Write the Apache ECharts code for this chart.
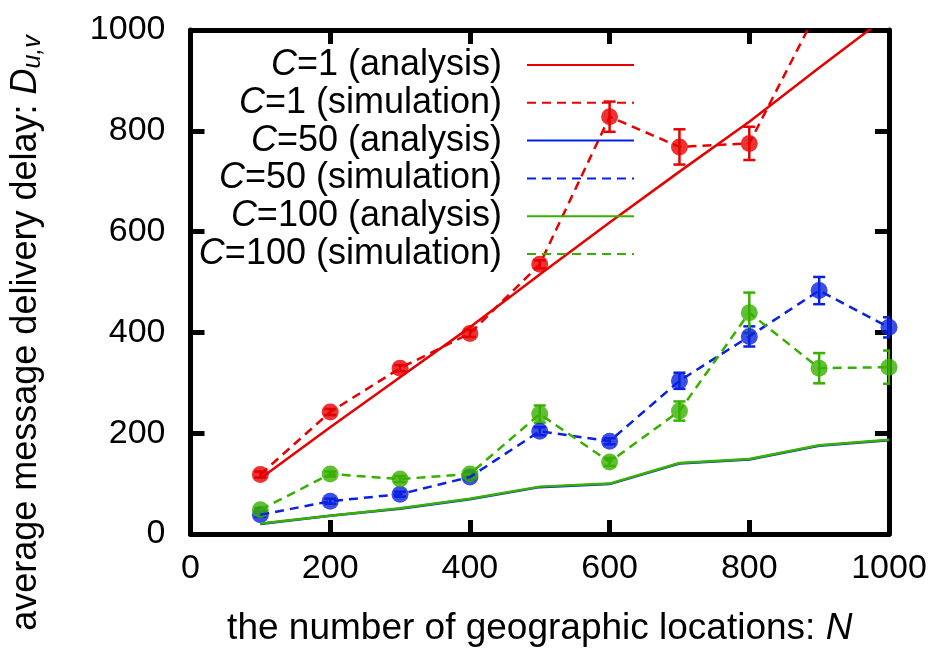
<!DOCTYPE html>
<html>
<head>
<meta charset="utf-8">
<script src="https://cdn.jsdelivr.net/npm/echarts@6/dist/echarts.min.js"></script>
<style>
  html, body { margin: 0; padding: 0; background: #fff; }
  #chart { width: 939px; height: 652px; }
</style>
</head>
<body>
<div id="chart"></div>
<script>
// number of locations N
const nValues = [100, 200, 300, 400, 500, 600, 700, 800, 900, 1000];

// analysis curves
const c1Analysis = [110, 212, 311, 410, 515, 618, 719, 818, 925, 1030];
const c50Analysis = [20, 36, 50, 69, 93, 99, 140, 148, 175, 186];
const c100Analysis = [21, 36, 51, 70, 94, 100, 141, 149, 176, 187];

// simulation means and error (half range)
const c1Sim = [118, 242, 329, 398, 535, 828, 768, 775, 1045, 1250];
const c1Err = [6, 6, 6, 7, 8, 30, 35, 33, 30, 40];
const c50Sim = [38, 65, 79, 113, 204, 184, 304, 392, 483, 410];
const c50Err = [4, 5, 5, 6, 8, 6, 16, 20, 27, 20];
const c100Sim = [48, 119, 109, 119, 238, 143, 244, 439, 329, 331];
const c100Err = [4, 5, 6, 5, 17, 8, 19, 40, 30, 33];

const RED = '#e60000', BLUE = '#0a22e0', GREEN = '#38b000';
const FONT = 'Liberation Sans, Arial, sans-serif';

function pairs(vals) {
  return nValues.map((n, i) => [n, vals[i]]);
}

function errSeries(vals, errs, color) {
  return {
    type: 'custom',
    clip: true,
    silent: true,
    data: nValues.map((n, i) => [n, vals[i] - errs[i], vals[i] + errs[i]]),
    renderItem: function (params, api) {
      const lo = api.coord([api.value(0), api.value(1)]);
      const hi = api.coord([api.value(0), api.value(2)]);
      const w = 6;
      const st = { stroke: color, lineWidth: 2.5 };
      return {
        type: 'group',
        children: [
          { type: 'line', shape: { x1: lo[0], y1: lo[1], x2: hi[0], y2: hi[1] }, style: st },
          { type: 'line', shape: { x1: lo[0] - w, y1: lo[1], x2: lo[0] + w, y2: lo[1] }, style: st },
          { type: 'line', shape: { x1: hi[0] - w, y1: hi[1], x2: hi[0] + w, y2: hi[1] }, style: st }
        ]
      };
    }
  };
}

function solid(name, vals, color) {
  return {
    name: name, type: 'line', data: pairs(vals), symbol: 'none',
    lineStyle: { color: color, width: 2.5 }, itemStyle: { color: color }
  };
}
function dashed(name, vals, color) {
  return {
    name: name, type: 'line', data: pairs(vals), symbol: 'none',
    lineStyle: { color: color, width: 2.5, type: [9, 6] }, itemStyle: { color: color }
  };
}
function dots(vals, color) {
  return {
    type: 'scatter', data: pairs(vals), symbol: 'circle', symbolSize: 17,
    itemStyle: { color: color }, silent: true
  };
}

const chart = echarts.init(document.getElementById('chart'));

const axisLine = { show: true, onZero: false, lineStyle: { color: '#000', width: 5 } };
const axisTick = { show: true, inside: true, length: 14, lineStyle: { color: '#000', width: 5 } };
const plainNum = v => String(v);

const option = {
  animation: false,
  backgroundColor: '#fff',
  grid: { left: 183, right: 50, top: 30, bottom: 118, containLabel: false },
  legend: {
    orient: 'vertical',
    align: 'right',
    right: 304,
    top: 47,
    padding: 0,
    itemWidth: 107,
    itemHeight: 14,
    itemGap: 1.8,
    selectedMode: false,
    itemStyle: { opacity: 0 },
    data: ['C=1 (analysis)', 'C=1 (simulation)', 'C=50 (analysis)', 'C=50 (simulation)', 'C=100 (analysis)', 'C=100 (simulation)'],
    formatter: function (name) {
      return '{i|C}{t|' + name.slice(1) + '}';
    },
    textStyle: {
      color: '#000',
      fontFamily: FONT,
      fontSize: 36,
      lineHeight: 34,
      padding: [0, 20, 0, 0],
      rich: {
        i: { fontStyle: 'italic', fontSize: 36, fontFamily: FONT, color: '#000' },
        t: { fontSize: 36, fontFamily: FONT, color: '#000' }
      }
    }
  },
  xAxis: [{
    type: 'value', min: 0, max: 1000, interval: 200,
    position: 'bottom',
    axisLine: axisLine, axisTick: axisTick, splitLine: { show: false },
    axisLabel: { color: '#000', fontSize: 34, fontFamily: FONT, margin: 18, formatter: plainNum },
    name: 'the number of geographic locations: {i|N}',
    nameLocation: 'middle',
    nameGap: 76,
    nameTextStyle: {
      color: '#000', fontSize: 37, fontFamily: FONT,
      rich: { i: { fontStyle: 'italic', fontSize: 37, fontFamily: FONT, color: '#000' } }
    }
  }, {
    type: 'value', min: 0, max: 1000, interval: 200,
    position: 'top',
    axisLine: axisLine, axisTick: axisTick, splitLine: { show: false },
    axisLabel: { show: false }
  }],
  yAxis: [{
    type: 'value', min: 0, max: 1000, interval: 200,
    position: 'left',
    axisLine: axisLine, axisTick: axisTick, splitLine: { show: false },
    axisLabel: { color: '#000', fontSize: 34, fontFamily: FONT, margin: 25, formatter: plainNum },
    name: 'average message delivery delay: {i|D}{s|u,v}',
    nameLocation: 'middle',
    nameGap: 145,
    nameTextStyle: {
      color: '#000', fontSize: 36, fontFamily: FONT,
      padding: [0, 102, 0, 0],
      rich: {
        i: { fontStyle: 'italic', fontSize: 36, fontFamily: FONT, color: '#000' },
        s: { fontStyle: 'italic', fontSize: 25, fontFamily: FONT, color: '#000', verticalAlign: 'bottom', padding: [14, 0, 0, 0] }
      }
    }
  }, {
    type: 'value', min: 0, max: 1000, interval: 200,
    position: 'right',
    axisLine: axisLine, axisTick: axisTick, splitLine: { show: false },
    axisLabel: { show: false }
  }],
  series: [
    solid('C=1 (analysis)', c1Analysis, RED),
    dashed('C=1 (simulation)', c1Sim, RED),
    errSeries(c1Sim, c1Err, RED),
    dots(c1Sim, RED),
    solid('C=50 (analysis)', c50Analysis, BLUE),
    dashed('C=50 (simulation)', c50Sim, BLUE),
    errSeries(c50Sim, c50Err, BLUE),
    dots(c50Sim, BLUE),
    solid('C=100 (analysis)', c100Analysis, GREEN),
    dashed('C=100 (simulation)', c100Sim, GREEN),
    errSeries(c100Sim, c100Err, GREEN),
    dots(c100Sim, GREEN)
  ]
};

chart.setOption(option);
</script>
</body>
</html>
